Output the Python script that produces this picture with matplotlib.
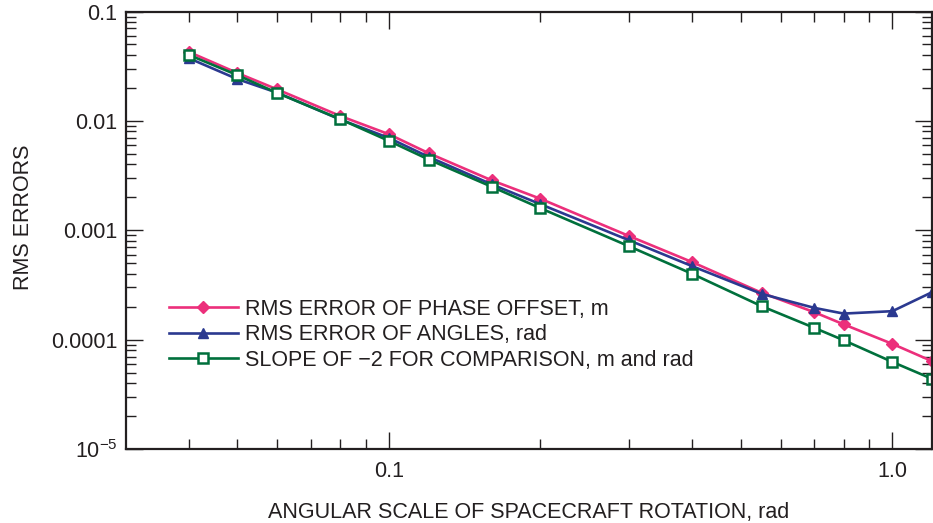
import numpy as np
import matplotlib
matplotlib.use("Agg")
import matplotlib.pyplot as plt
from matplotlib.ticker import FixedLocator, NullFormatter

plt.rcParams['font.family'] = ['Liberation Sans', 'DejaVu Sans']
plt.rcParams['mathtext.fontset'] = 'custom'
plt.rcParams['mathtext.rm'] = 'Liberation Sans'

#Data
scale = [0.04, 0.05, 0.06, 0.08, 0.1, 0.12, 0.16, 0.2, 0.3, 0.4, 0.55, 0.7, 0.8, 1.0, 1.2]
phase_err = [0.0428, 0.0274, 0.0194, 0.0111, 0.00755, 0.00506, 0.00286, 0.00194,
             0.000885, 0.000512, 0.000268, 0.000178, 0.000138, 9.14e-5, 6.34e-5]
angle_err = [0.0375, 0.0241, 0.0181, 0.0103, 0.00698, 0.00468, 0.00263, 0.00173,
             0.000809, 0.00047, 0.000262, 0.000195, 0.000173, 0.000182, 0.000272]
slope_ref = [0.0402, 0.0262, 0.0180, 0.01037, 0.00656, 0.00443, 0.0025, 0.00159,
             0.000713, 0.0004, 0.000202, 0.000128, 9.88e-5, 6.25e-5, 4.37e-5]

labels = ["RMS ERROR OF PHASE OFFSET, m",
          "RMS ERROR OF ANGLES, rad",
          "SLOPE OF \u22122 FOR COMPARISON, m and rad"]
ytick_vals = [1e-5, 1e-4, 1e-3, 1e-2, 1e-1]
ytick_labels = ["10$^{\u22125}$", "0.0001", "0.001", "0.01", "0.1"]
xtick_vals = [0.1, 1.0]
xtick_labels = ["0.1", "1.0"]

pink = "#EC2F7B"
blue = "#2B3990"
green = "#00703C"
ink = "#231F20"

fig = plt.figure(figsize=(9.33, 5.23), dpi=100)
ax = fig.add_axes([0.1347, 0.1415, 0.8645, 0.8365])

ax.plot(scale, phase_err, color=pink, lw=1.9, marker="D", ms=6, label=labels[0])
ax.plot(scale, angle_err, color=blue, lw=1.9, marker="^", ms=6.5, label=labels[1])
ax.plot(scale, slope_ref, color=green, lw=1.9, marker="s", ms=7, mfc="white",
        mew=1.8, label=labels[2])

ax.set_xscale("log")
ax.set_yscale("log")
ax.set_xlim(0.03, 1.2)
ax.set_ylim(1e-5, 0.1)

ax.yaxis.set_major_locator(FixedLocator(ytick_vals))
ax.set_yticklabels(ytick_labels)
ax.xaxis.set_major_locator(FixedLocator(xtick_vals))
ax.set_xticklabels(xtick_labels)
ax.xaxis.set_minor_locator(FixedLocator([0.04, 0.05, 0.06, 0.07, 0.08, 0.09,
                                         0.2, 0.3, 0.4, 0.5, 0.6, 0.7, 0.8, 0.9]))
ax.xaxis.set_minor_formatter(NullFormatter())
ax.yaxis.set_minor_formatter(NullFormatter())

ax.tick_params(which="both", direction="in", top=True, right=True, width=1, color=ink,
               labelsize=15.5, labelcolor=ink)
ax.tick_params(which="major", length=12)
ax.tick_params(which="minor", length=7)
ax.tick_params(axis="y", pad=6)
ax.tick_params(axis="x", pad=9)
for s in ax.spines.values():
    s.set_linewidth(1.6)
    s.set_color(ink)

ax.set_xlabel("ANGULAR SCALE OF SPACECRAFT ROTATION, rad", fontsize=15.5, color=ink)
ax.set_ylabel("RMS ERRORS", fontsize=15.5, color=ink)
ax.xaxis.set_label_coords(0.5, -0.122)
ax.yaxis.set_label_coords(-0.114, 0.53)

ax.legend(loc="upper left", bbox_to_anchor=(0.0537, 0.343), frameon=False, fontsize=15.5,
          handlelength=3.2, handletextpad=0.35, labelspacing=0.2, borderpad=0,
          borderaxespad=0, labelcolor=ink)

fig.savefig("out.png", dpi=100)
